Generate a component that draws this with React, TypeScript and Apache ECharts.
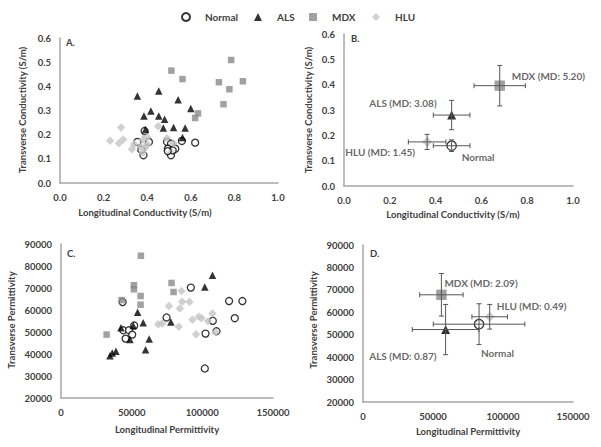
import React, { useEffect, useRef } from "react";
import * as echarts from "echarts";

// ---------- Data ----------
const seriesNames = ["Normal", "ALS", "MDX", "HLU"];

// Panel A: individual conductivity (longitudinal, transverse) in S/m
const normalCond = [[0.388,0.215],[0.355,0.170],[0.408,0.170],[0.383,0.115],[0.373,0.138],[0.491,0.170],[0.509,0.163],[0.495,0.142],[0.509,0.115],[0.529,0.142],[0.517,0.135],[0.559,0.174],[0.620,0.167],[0.494,0.132]];
const alsCond = [[0.355,0.360],[0.453,0.381],[0.542,0.345],[0.600,0.308],[0.385,0.277],[0.417,0.298],[0.453,0.277],[0.480,0.264],[0.474,0.228],[0.521,0.230],[0.574,0.228],[0.392,0.221],[0.562,0.188]];
const mdxCond = [[0.511,0.465],[0.562,0.430],[0.785,0.509],[0.729,0.417],[0.839,0.421],[0.777,0.388],[0.750,0.326],[0.633,0.288],[0.620,0.269]];
const hluCond = [[0.28,0.23],[0.23,0.175],[0.27,0.165],[0.29,0.18],[0.45,0.235],[0.33,0.14],[0.34,0.16],[0.38,0.18],[0.39,0.145],[0.38,0.125],[0.40,0.16],[0.37,0.15],[0.49,0.185],[0.52,0.165],[0.40,0.19]];

// Panel B: means [x, y, xErr, yErr]
const normalCondMean = [0.470, 0.159, 0.080, 0.023];
const alsCondMean = [0.470, 0.280, 0.080, 0.058];
const mdxCondMean = [0.680, 0.396, 0.112, 0.080];
const hluCondMean = [0.363, 0.174, 0.082, 0.030];
const condLabels = ["Normal", "ALS (MD: 3.08)", "MDX (MD: 5.20)", "HLU (MD: 1.45)"];

// Panel C: individual permittivity
const normalPerm = [[91850,70190],[118930,64060],[128350,64060],[122950,56280],[107400,55090],[102250,49280],[110000,50330],[101750,33410],[74690,56600],[43600,63600],[51790,52940],[44020,50790],[48050,50790],[50380,48820],[45720,46990]];
const alsPerm = [[107180,75815],[101750,70460],[54200,59030],[58160,54180],[77730,54490],[42400,51890],[51100,52970],[62400,46860],[48760,46540],[59850,41960],[34620,39220],[36250,40450],[38860,41200]];
const mdxPerm = [[56530,84650],[51580,71240],[51580,69410],[56320,66350],[56320,62410],[42890,64510],[32270,48820],[78220,72290],[79630,68170]];
const hluPerm = [[85280,68630],[76310,61770],[84080,60720],[85720,63780],[90930,63780],[68750,53550],[71580,53860],[83380,52330],[93060,55540],[97510,56920],[99410,56280],[104090,54900],[107180,58420],[95600,48960],[109300,49870]];

// Panel D: means [x, y, xErr, yErr]
const normalPermMean = [82900, 54700, 32700, 9100];
const alsPermMean = [59000, 52300, 23800, 11200];
const mdxPermMean = [56000, 67800, 15500, 9500];
const hluPermMean = [90500, 58000, 12700, 5500];
const permLabels = ["Normal", "ALS (MD: 0.87)", "MDX (MD: 2.09)", "HLU (MD: 0.49)"];

// ---------- Styles ----------
const FONT = "Lato";
const TXT = "#404040";
const styles: any = {
  Normal: { symbol: "circle", size: 7, itemStyle: { color: "#ffffff", borderColor: "#000000", borderWidth: 1.3 } },
  ALS: { symbol: "triangle", size: 7.5, itemStyle: { color: "#000000" } },
  MDX: { symbol: "rect", size: 6.5, itemStyle: { color: "#8a8a8a" } },
  HLU: { symbol: "diamond", size: 8.5, itemStyle: { color: "#c4c4c4" } },
};
const legendLefts = [181, 254, 309, 372];

export default function App() {
  const ref = useRef<HTMLDivElement>(null);
  useEffect(() => {
    if (!ref.current) return;
    const chart = echarts.init(ref.current, null, { renderer: "svg" });

    const axisCommon = {
      axisLine: { show: true, onZero: false, lineStyle: { color: "#a6a6a6", width: 1.5 } },
      axisTick: { show: false },
      splitLine: { show: false },
      axisLabel: { fontFamily: FONT, fontWeight: "bold", fontSize: 9.5, color: TXT, margin: 9 },
    };
    const condX = (g: number) => ({ ...axisCommon, type: "value", gridIndex: g, min: 0, max: 1, interval: 0.2,
      axisLabel: { ...axisCommon.axisLabel, formatter: (v: number) => v.toFixed(1) } });
    const condY = (g: number) => ({ ...axisCommon, type: "value", gridIndex: g, min: 0, max: 0.6, interval: 0.1,
      axisLabel: { ...axisCommon.axisLabel, formatter: (v: number) => v.toFixed(1) } });
    const permX = (g: number) => ({ ...axisCommon, type: "value", gridIndex: g, min: 0, max: 150000, interval: 50000,
      axisLabel: { ...axisCommon.axisLabel, formatter: (v: number) => String(v) } });
    const permY = (g: number) => ({ ...axisCommon, type: "value", gridIndex: g, min: 20000, max: 90000, interval: 10000,
      axisLabel: { ...axisCommon.axisLabel, formatter: (v: number) => String(v) } });

    const scatter = (name: string, data: number[][], idx: number) => ({
      type: "scatter", name, xAxisIndex: idx, yAxisIndex: idx, data,
      symbol: styles[name].symbol, symbolSize: styles[name].size, itemStyle: styles[name].itemStyle, z: 3,
    });

    const labelCfg = (text: string, align: string, offset: number[]) => ({
      show: true, formatter: text, position: "inside", align, verticalAlign: "middle", offset,
      fontFamily: FONT, fontWeight: "bold", fontSize: 10, color: TXT,
    });

    const meanSeries = (name: string, m: number[], idx: number, text: string, align: string, offset: number[], scale: number) => {
      const st = styles[name];
      const itemStyle = name === "Normal"
        ? { color: "rgba(255,255,255,0)", borderColor: "#000000", borderWidth: 1.3 }
        : st.itemStyle;
      return {
        type: "scatter", name, xAxisIndex: idx, yAxisIndex: idx, data: [[m[0], m[1]]],
        symbol: st.symbol, symbolSize: st.size * scale, itemStyle, z: 3,
        label: labelCfg(text, align, offset),
      };
    };

    const errSeries = (means: number[][], idx: number) => ({
      type: "custom", xAxisIndex: idx, yAxisIndex: idx, data: means, z: 4, silent: true,
      encode: { x: 0, y: 1 },
      renderItem: (params: any, api: any) => {
        const x = api.value(0), y = api.value(1), ex = api.value(2), ey = api.value(3);
        const l = api.coord([x - ex, y]), r = api.coord([x + ex, y]);
        const b = api.coord([x, y - ey]), t = api.coord([x, y + ey]);
        const cap = 2.5;
        const style = { stroke: "#555555", lineWidth: 1, fill: null };
        const ln = (x1: number, y1: number, x2: number, y2: number) => ({ type: "line", shape: { x1, y1, x2, y2 }, style });
        return {
          type: "group",
          children: [
            ln(l[0], l[1], r[0], r[1]),
            ln(l[0], l[1] - cap, l[0], l[1] + cap),
            ln(r[0], r[1] - cap, r[0], r[1] + cap),
            ln(b[0], b[1], t[0], t[1]),
            ln(b[0] - cap, b[1], b[0] + cap, b[1]),
            ln(t[0] - cap, t[1], t[0] + cap, t[1]),
          ],
        };
      },
    });

    const titleStyle = { fontFamily: FONT, fontWeight: "bold", fontSize: 9.5, fill: TXT, align: "center", verticalAlign: "middle" };
    const gtext = (text: string, x: number, y: number, rot = 0, extra: any = {}) => ({
      type: "text", x, y, rotation: rot, style: { ...titleStyle, text, ...extra },
    });

    const option: any = {
      animation: false,
      backgroundColor: "#ffffff",
      legend: seriesNames.map((n, i) => ({
        data: [n], left: legendLefts[i], top: 12, padding: 0, itemWidth: 8, itemHeight: 8,
        textStyle: { fontFamily: FONT, fontWeight: "bold", fontSize: 10, color: TXT, padding: [0, 0, 0, 10] },
      })),
      grid: [
        { left: 60, top: 38, width: 218, height: 145 },
        { left: 344, top: 34, width: 229, height: 152 },
        { left: 61, top: 244, width: 212, height: 154 },
        { left: 363, top: 245, width: 210, height: 157 },
      ],
      xAxis: [condX(0), condX(1), permX(2), permX(3)],
      yAxis: [condY(0), condY(1), permY(2), permY(3)],
      series: [
        scatter("Normal", normalCond, 0),
        scatter("ALS", alsCond, 0),
        scatter("MDX", mdxCond, 0),
        scatter("HLU", hluCond, 0),

        meanSeries("Normal", normalCondMean, 1, condLabels[0], "left", [10, 11], 1.35),
        meanSeries("ALS", alsCondMean, 1, condLabels[1], "right", [-15, -12], 1.2),
        meanSeries("MDX", mdxCondMean, 1, condLabels[2], "left", [12, -10], 1.6),
        meanSeries("HLU", hluCondMean, 1, condLabels[3], "right", [-12, 10], 1.2),
        errSeries([normalCondMean, alsCondMean, mdxCondMean, hluCondMean], 1),

        scatter("Normal", normalPerm, 2),
        scatter("ALS", alsPerm, 2),
        scatter("MDX", mdxPerm, 2),
        scatter("HLU", hluPerm, 2),

        meanSeries("Normal", normalPermMean, 3, permLabels[0], "left", [2, 29], 1.35),
        meanSeries("ALS", alsPermMean, 3, permLabels[1], "right", [-9, 26], 1.2),
        meanSeries("MDX", mdxPermMean, 3, permLabels[2], "left", [3, -12], 1.6),
        meanSeries("HLU", hluPermMean, 3, permLabels[3], "left", [7, -11], 1.2),
        errSeries([normalPermMean, alsPermMean, mdxPermMean, hluPermMean], 3),
      ],
      graphic: [
        gtext("A.", 66, 42, 0, { align: "left" }),
        gtext("B.", 351, 38, 0, { align: "left" }),
        gtext("C.", 67, 253, 0, { align: "left" }),
        gtext("D.", 370, 253, 0, { align: "left" }),
        gtext("Transverse Conductivity (S/m)", 22, 110, Math.PI / 2),
        gtext("Transverse Conductivity (S/m)", 308, 110, Math.PI / 2),
        gtext("Longitudinal Conductivity (S/m)", 145, 212),
        gtext("Longitudinal Conductivity (S/m)", 453, 214),
        gtext("Transverse Permittivity", 11, 320, Math.PI / 2),
        gtext("Transverse Permittivity", 313, 320, Math.PI / 2),
        gtext("Longitudinal Permittivity", 167, 429),
        gtext("Longitudinal Permittivity", 468, 431),
      ],
    };
    chart.setOption(option);
    return () => chart.dispose();
  }, []);

  return (
    <div
      ref={ref}
      style={{ position: "fixed", left: 0, top: 0, width: 601, height: 447, background: "#fff" }}
    />
  );
}
